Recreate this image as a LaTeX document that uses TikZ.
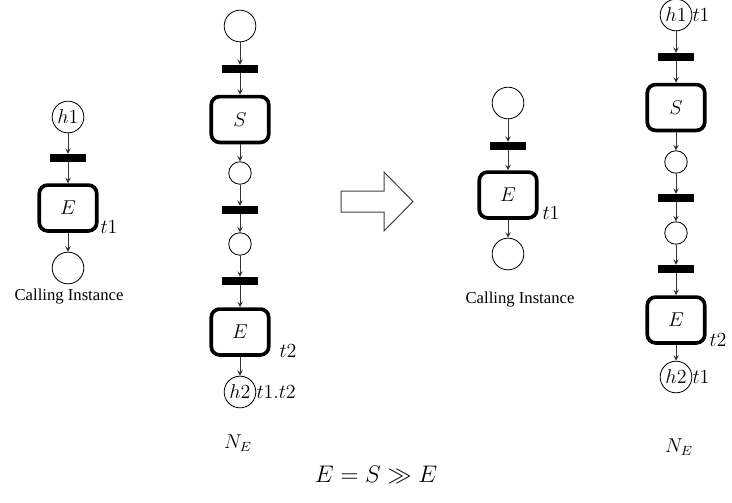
\documentclass[tikz,border=0pt]{standalone}
\usepackage{amsmath}
\usepackage{amssymb}
\usepackage{fontspec}
\setmainfont{Liberation Serif}
\usepackage{tikz}

\begin{document}
\begin{tikzpicture}[x=0.6pt,y=-0.6pt]
\tikzstyle{every node}+=[inner sep=0pt]
\tikzstyle{lbl}=[font=\large]
\tikzstyle{place}=[draw, circle, line width=0.5pt, minimum size=19pt, font=\large]
\tikzstyle{smallplace}=[draw, circle, line width=0.5pt, minimum size=13.5pt]
\tikzstyle{trans}=[fill=black, minimum width=21.6pt, minimum height=4.6pt]
\tikzstyle{task}=[draw, line width=2.2pt, rounded corners=5pt, minimum width=34.5pt, minimum height=27.5pt, font=\large]
\tikzstyle{flow}=[->, >=stealth, line width=0.45pt, black!80]
\useasboundingbox (0,0) rectangle (732,502);
% calling instance (left)
\node [place] (lh1) at (68,117) {$h1$};
\node [trans] (lb1) at (68,158) {};
\node [task] (le) at (68,208) {$E$};
\node [place] (lout) at (68,268) {};
\node [lbl] (lt1) at (109,227) {$t1$};
\node (lcall) at (69,297) {Calling Instance};
\draw [flow] (lh1) -- (lb1);
\draw [flow] (lb1) -- (le);
\draw [flow] (le) -- (lout);
% N_E (left)
\node [place] (ms) at (240,26) {};
\node [trans] (mb1) at (240,69) {};
\node [task] (mS) at (240,119.5) {$S$};
\node [smallplace] (mp1) at (240,173) {};
\node [trans] (mb2) at (240,210) {};
\node [smallplace] (mp2) at (240,244) {};
\node [trans] (mb3) at (240,281) {};
\node [task] (mE) at (240,332) {$E$};
\node [place] (mh2) at (240,392) {$h2$};
\node [lbl] (mt2) at (288,351) {$t2$};
\node [lbl, anchor=west] (mtt) at (mh2.east) {$t1.t2$};
\node [lbl] (mN) at (238,443) {$N_E$};
\draw [flow] (ms) -- (mb1);
\draw [flow] (mb1) -- (mS);
\draw [flow] (mS) -- (mp1);
\draw [flow] (mp1) -- (mb2);
\draw [flow] (mb2) -- (mp2);
\draw [flow] (mp2) -- (mb3);
\draw [flow] (mb3) -- (mE);
\draw [flow] (mE) -- (mh2);
% big arrow
\draw [line width=0.6pt, black!75] (341,191) -- (384,191) -- (384,172) -- (413,201.5) -- (384,231) -- (384,212) -- (341,212) -- cycle;
% calling instance (right)
\node [place] (rs) at (508,103) {};
\node [trans] (rb1) at (508,146) {};
\node [task] (re) at (508,195) {$E$};
\node [place] (rout) at (508,254) {};
\node [lbl] (rt1) at (551,213) {$t1$};
\node (rcall) at (520,300) {Calling Instance};
\draw [flow] (rs) -- (rb1);
\draw [flow] (rb1) -- (re);
\draw [flow] (re) -- (rout);
% N_E (right)
\node [place] (nh1) at (676,15) {$h1$};
\node [lbl, anchor=west] (nt1) at (nh1.east) {$t1$};
\node [trans] (nb1) at (676,57) {};
\node [task] (nS) at (676,107.5) {$S$};
\node [smallplace] (np1) at (676,162) {};
\node [trans] (nb2) at (676,198) {};
\node [smallplace] (np2) at (676,233) {};
\node [trans] (nb3) at (676,269) {};
\node [task] (nE) at (676,320) {$E$};
\node [place] (nh2) at (676,377) {$h2$};
\node [lbl, anchor=west] (nt1b) at (nh2.east) {$t1$};
\node [lbl] (nt2) at (718,340) {$t2$};
\node [lbl] (nN) at (679,447) {$N_E$};
\draw [flow] (nh1) -- (nb1);
\draw [flow] (nb1) -- (nS);
\draw [flow] (nS) -- (np1);
\draw [flow] (np1) -- (nb2);
\draw [flow] (nb2) -- (np2);
\draw [flow] (np2) -- (nb3);
\draw [flow] (nb3) -- (nE);
\draw [flow] (nE) -- (nh2);
% equation
\node (eq) at (376,475) {\Large $E = S \gg E$};
\end{tikzpicture}
\end{document}
